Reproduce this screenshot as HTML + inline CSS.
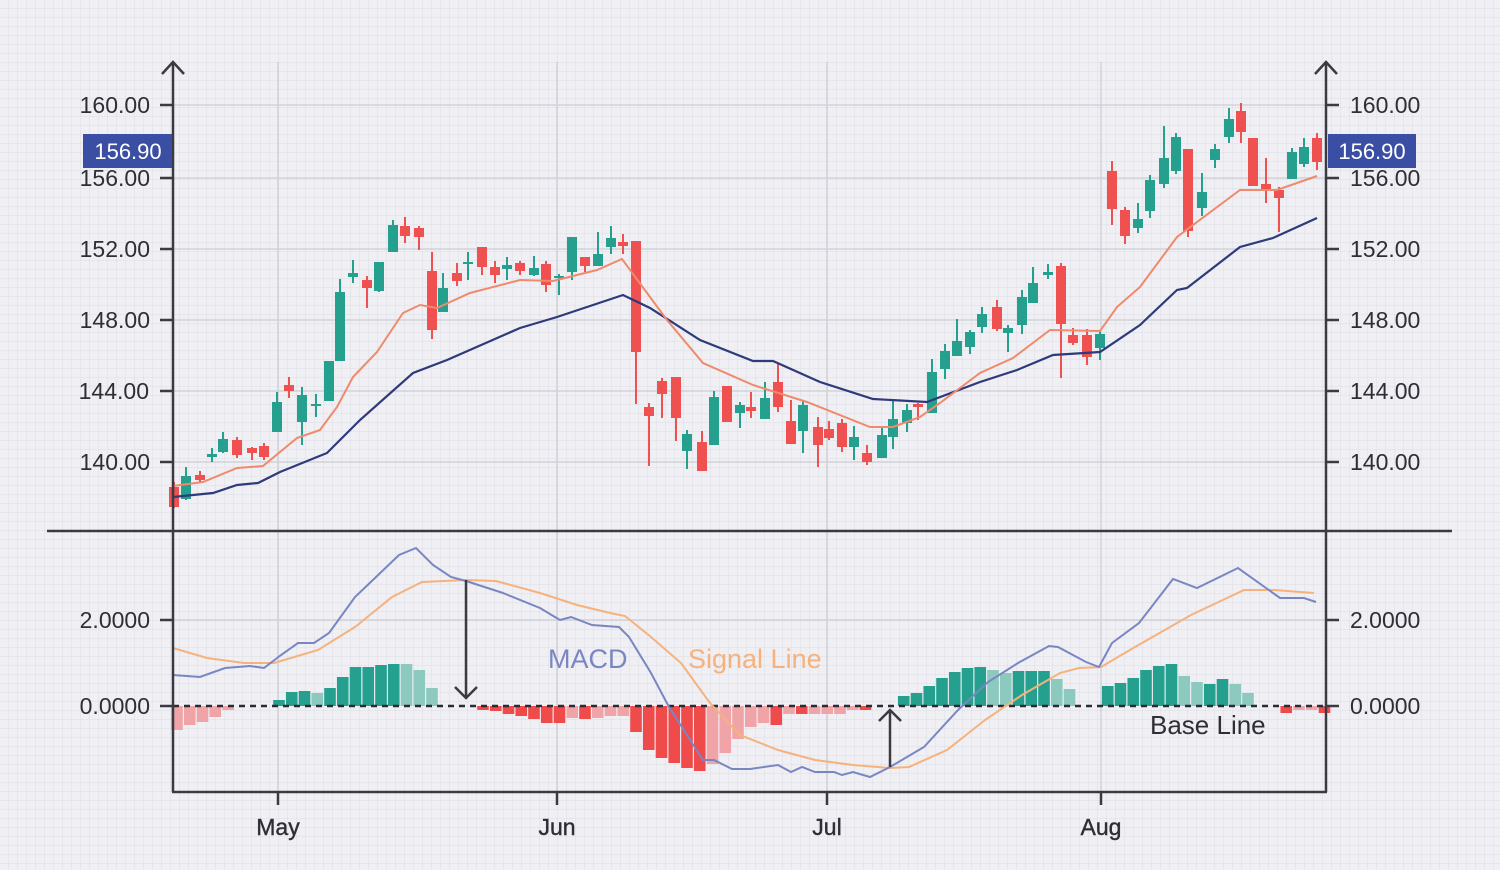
<!DOCTYPE html>
<html><head><meta charset="utf-8">
<style>
html,body{margin:0;padding:0;background:#efeff4;}
svg{display:block;}
text{font-family:"Liberation Sans","DejaVu Sans",sans-serif;}
</style></head>
<body>
<svg id="s" width="1500" height="870" viewBox="0 0 1500 870" xmlns="http://www.w3.org/2000/svg">
<defs>
<pattern id="g" width="9" height="9" patternUnits="userSpaceOnUse">
<path d="M9 0V9M0 9H9" stroke="#dcdce6" stroke-width="1" fill="none"/>
</pattern>
</defs>
<rect width="1500" height="870" fill="#efeff4"/>
<rect width="1500" height="870" fill="url(#g)"/>
<g stroke="#d2d2da" stroke-width="1.5">
<line x1="173" y1="105" x2="1326" y2="105"/>
<line x1="173" y1="178" x2="1326" y2="178"/>
<line x1="173" y1="249" x2="1326" y2="249"/>
<line x1="173" y1="320" x2="1326" y2="320"/>
<line x1="173" y1="391" x2="1326" y2="391"/>
<line x1="173" y1="462" x2="1326" y2="462"/>
<line x1="173" y1="620" x2="1326" y2="620"/>
<line x1="278" y1="62" x2="278" y2="792"/>
<line x1="557" y1="62" x2="557" y2="792"/>
<line x1="827" y1="62" x2="827" y2="792"/>
<line x1="1101" y1="62" x2="1101" y2="792"/>
</g>
<g id="hist"></g>
<line x1="173" y1="706" x2="1326" y2="706" stroke="#2b2b33" stroke-width="2.5" stroke-dasharray="6,5"/>
<polyline fill="none" stroke="#f6b27c" stroke-width="2" points="173,648 207,658 244,663 274,663 318,650 355,627 392,597 422,582 466,580 496,581 540,593 577,605 610,613 625,616 651,637 681,663 710,703 740,735 778,750 815,760 853,765 890,768 909,767 947,750 985,720 1022,695 1060,673 1079,668 1101,667 1135,647 1191,615 1244,590 1274,590 1314,593"/>
<polyline fill="none" stroke="#7a86c2" stroke-width="2" points="173,675 200,677 225,668 250,666 264,668 281,655 298,643 314,643 329,633 355,597 375,578 399,555 416,548 433,565 451,577 466,581 503,593 540,608 560,620 571,617 592,625 619,627 629,637 651,673 669,707 703,760 714,760 732,769 750,769 778,765 791,772 802,767 815,772 834,772 842,775 853,772 870,777 890,767 924,747 958,710 988,682 1018,663 1049,646 1058,647 1086,662 1099,667 1112,643 1139,623 1173,579 1197,588 1238,568 1280,598 1304,598 1316,602"/>
<g id="cd"></g>
<polyline fill="none" stroke="#2e3a7a" stroke-width="2.2" points="173,497 213,493 237,485 258,483 280,472 327,453 360,420 413,373 447,360 520,328 557,317 587,307 623,295 650,308 700,340 753,361 773,361 820,382 873,399 927,402 980,382 1017,370 1053,355 1100,352 1140,325 1177,290 1187,288 1240,247 1273,238 1317,218"/>
<polyline fill="none" stroke="#f08a6c" stroke-width="2" points="173,486 203,482 237,468 263,466 297,438 320,430 337,407 353,377 377,352 403,313 420,305 437,308 470,293 520,280 553,281 597,270 622,259 650,297 667,320 703,363 753,385 807,402 870,427 893,427 920,417 940,403 980,373 1013,358 1050,330 1100,331 1117,307 1140,287 1177,237 1240,190 1277,190 1317,176"/>
<g stroke="#3a3a40" stroke-width="2.5" fill="none">
<line x1="47" y1="531" x2="1452" y2="531"/>
<line x1="173" y1="62" x2="173" y2="792"/>
<line x1="1326" y1="62" x2="1326" y2="792"/>
<line x1="172" y1="792" x2="1327" y2="792"/>
<polyline points="162,74 173,62 184,74"/>
<polyline points="1315,74 1326,62 1337,74"/>
<line x1="160" y1="105" x2="173" y2="105"/><line x1="160" y1="178" x2="173" y2="178"/><line x1="160" y1="249" x2="173" y2="249"/><line x1="160" y1="320" x2="173" y2="320"/><line x1="160" y1="391" x2="173" y2="391"/><line x1="160" y1="462" x2="173" y2="462"/><line x1="160" y1="620" x2="173" y2="620"/><line x1="160" y1="706" x2="173" y2="706"/>
<line x1="1326" y1="105" x2="1339" y2="105"/><line x1="1326" y1="178" x2="1339" y2="178"/><line x1="1326" y1="249" x2="1339" y2="249"/><line x1="1326" y1="320" x2="1339" y2="320"/><line x1="1326" y1="391" x2="1339" y2="391"/><line x1="1326" y1="462" x2="1339" y2="462"/><line x1="1326" y1="620" x2="1339" y2="620"/><line x1="1326" y1="706" x2="1339" y2="706"/>
<line x1="278" y1="792" x2="278" y2="805"/><line x1="557" y1="792" x2="557" y2="805"/><line x1="827" y1="792" x2="827" y2="805"/><line x1="1101" y1="792" x2="1101" y2="805"/>
<line x1="466" y1="580" x2="466" y2="698"/>
<polyline points="455,687 466,698 477,687"/>
<line x1="890" y1="767" x2="890" y2="710"/>
<polyline points="879,721 890,710 901,721"/>
</g>
<g fill="#2e2e34" font-size="23">
<g text-anchor="end">
<text x="150" y="113">160.00</text><text x="150" y="186">156.00</text><text x="150" y="257">152.00</text><text x="150" y="328">148.00</text><text x="149" y="399">144.00</text><text x="150" y="470">140.00</text><text x="150" y="628">2.0000</text><text x="150" y="714">0.0000</text>
</g>
<text x="1350" y="113">160.00</text><text x="1350" y="186">156.00</text><text x="1350" y="257">152.00</text><text x="1350" y="328">148.00</text><text x="1350" y="399">144.00</text><text x="1350" y="470">140.00</text><text x="1350" y="628">2.0000</text><text x="1350" y="714">0.0000</text>
<g text-anchor="middle" stroke="#2e2e34" stroke-width="0.4"><text x="278" y="835">May</text><text x="557" y="835">Jun</text><text x="827" y="835">Jul</text><text x="1101" y="835">Aug</text></g>
</g>
<rect x="83" y="134" width="89" height="34" fill="#3a4ea3"/>
<rect x="1328" y="134" width="88" height="34" fill="#3a4ea3"/>
<g fill="#fff" font-size="22" text-anchor="middle"><text x="128" y="159">156.90</text><text x="1372" y="159">156.90</text></g>
<text x="548" y="668" font-size="27" fill="#7a86c2">MACD</text>
<text x="688" y="668" font-size="27" fill="#f6b27c">Signal Line</text>
<text x="1150" y="734" font-size="26" fill="#2e2e34">Base Line</text>
</svg>
<script>
var NS="http://www.w3.org/2000/svg";
function el(p,t,a){var e=document.createElementNS(NS,t);for(var k in a)e.setAttribute(k,a[k]);p.appendChild(e);return e;}
var G='#26a08e',R='#ef5050';
var C=[[174,487,507,482,508,'r'],[186,476,499,467,500,'g'],[200,475,480,471,483,'r'],[212,454,457,448,462,'g'],[223,439,452,432,453,'g'],[237,440,455,437,458,'r'],[252,448,453,447,460,'r'],[264,446,457,443,460,'r'],[277,402,432,392,432,'g'],[289,385,391,377,398,'r'],[302,395,422,387,445,'g'],[316,404,406,394,417,'g'],[329,361,401,361,401,'g'],[340,292,361,279,361,'g'],[353,273,277,260,283,'g'],[367,280,288,276,308,'r'],[379,262,291,262,292,'g'],[393,225,252,220,252,'g'],[405,226,236,217,243,'r'],[419,228,237,226,250,'r'],[432,271,330,252,339,'r'],[443,288,312,273,312,'g'],[457,273,281,263,286,'r'],[468,262,264,252,280,'g'],[482,247,267,247,275,'r'],[495,267,275,261,283,'r'],[507,265,269,257,280,'g'],[520,263,271,261,275,'r'],[534,268,275,256,276,'g'],[546,264,285,261,292,'r'],[559,276,278,274,295,'g'],[572,237,272,237,280,'g'],[585,257,266,257,272,'r'],[598,254,266,232,266,'g'],[611,238,247,226,254,'g'],[623,242,246,234,254,'r'],[636,241,352,241,404,'r'],[649,407,416,403,466,'r'],[662,381,394,378,418,'r'],[676,377,418,377,441,'r'],[687,434,451,430,469,'g'],[702,442,471,431,471,'r'],[714,397,445,391,445,'g'],[727,386,422,386,422,'r'],[740,405,413,402,428,'g'],[751,407,411,392,418,'r'],[765,398,419,382,419,'g'],[778,382,407,363,412,'r'],[791,421,444,400,444,'r'],[803,405,431,401,453,'g'],[818,427,445,417,467,'r'],[829,429,438,421,440,'r'],[842,423,447,419,452,'r'],[854,437,447,426,460,'g'],[867,453,462,445,465,'r'],[882,435,458,427,458,'g'],[893,419,437,401,449,'g'],[907,410,423,404,432,'g'],[918,404,407,403,420,'r'],[932,372,413,359,413,'g'],[945,351,369,344,379,'g'],[957,341,356,319,356,'g'],[970,332,347,330,354,'g'],[982,314,327,307,333,'g'],[997,307,329,300,331,'r'],[1008,328,333,325,352,'g'],[1022,297,325,290,334,'g'],[1033,283,303,267,303,'g'],[1048,272,275,264,279,'g'],[1061,266,324,263,378,'r'],[1073,335,343,328,345,'r'],[1087,335,357,329,365,'r'],[1100,334,348,330,360,'g'],[1112,171,209,161,225,'r'],[1125,210,236,207,244,'r'],[1138,219,228,203,233,'g'],[1150,180,211,175,218,'g'],[1164,158,184,126,188,'g'],[1176,137,171,133,174,'g'],[1188,149,231,149,237,'r'],[1202,192,208,173,216,'g'],[1215,149,160,144,168,'g'],[1229,119,137,108,143,'g'],[1241,111,132,103,143,'r'],[1253,138,186,138,186,'r'],[1266,184,190,158,203,'r'],[1279,190,198,187,232,'r'],[1292,152,179,148,179,'g'],[1304,147,164,138,167,'g'],[1317,138,162,133,170,'r']];
var cd=document.getElementById('cd');
C.forEach(function(c){var col=c[5]=='g'?G:R;
el(cd,'line',{x1:c[0],x2:c[0],y1:c[3],y2:c[4],stroke:col,'stroke-width':2});
var h=Math.max(2,c[2]-c[1]);el(cd,'rect',{x:c[0]-5,y:c[1],width:10,height:h,fill:col});});
var H={0:[-24,'l'],1:[-19,'l'],2:[-16,'l'],3:[-11,'l'],4:[-4,'l'],8:[6,'d'],9:[14,'d'],10:[15,'d'],11:[13,'l'],12:[18,'d'],13:[29,'d'],14:[39,'d'],15:[39,'d'],16:[41,'d'],17:[42,'d'],18:[42,'l'],19:[36,'l'],20:[18,'l'],24:[-4,'d'],25:[-5,'d'],26:[-8,'d'],27:[-10,'d'],28:[-13,'d'],29:[-17,'d'],30:[-17,'d'],31:[-12,'l'],32:[-13,'d'],33:[-12,'l'],34:[-10,'l'],35:[-10,'l'],36:[-26,'d'],37:[-44,'d'],38:[-52,'d'],39:[-57,'d'],40:[-62,'d'],41:[-65,'d'],42:[-58,'l'],43:[-47,'l'],44:[-33,'l'],45:[-21,'l'],46:[-17,'l'],47:[-19,'d'],48:[-8,'l'],49:[-8,'d'],50:[-8,'l'],51:[-8,'l'],52:[-8,'l'],53:[-4,'l'],54:[-4,'d'],57:[10,'d'],58:[13,'d'],59:[20,'d'],60:[28,'d'],61:[34,'d'],62:[38,'d'],63:[39,'d'],64:[36,'l'],65:[33,'l'],66:[35,'d'],67:[35,'d'],68:[35,'d'],69:[27,'l'],70:[17,'l'],73:[20,'d'],74:[23,'d'],75:[28,'d'],76:[36,'d'],77:[40,'d'],78:[42,'d'],79:[30,'l'],80:[24,'l'],81:[22,'d'],82:[27,'d'],83:[22,'l'],84:[13,'l'],87:[-7,'d'],88:[-4,'l'],89:[-4,'l'],90:[-7,'d']};
var hg=document.getElementById('hist');
for(var k in H){var v=H[k][0],t=H[k][1];var x=177+k*12.75;
var col=v>0?(t=='d'?'#26a08e':'#8ccabf'):(t=='d'?'#ef4b4b':'#f1a4a7');
el(hg,'rect',{x:x-5.8,y:v>0?706-v:706,width:11.6,height:Math.abs(v),fill:col});}
</script>
</body></html>
